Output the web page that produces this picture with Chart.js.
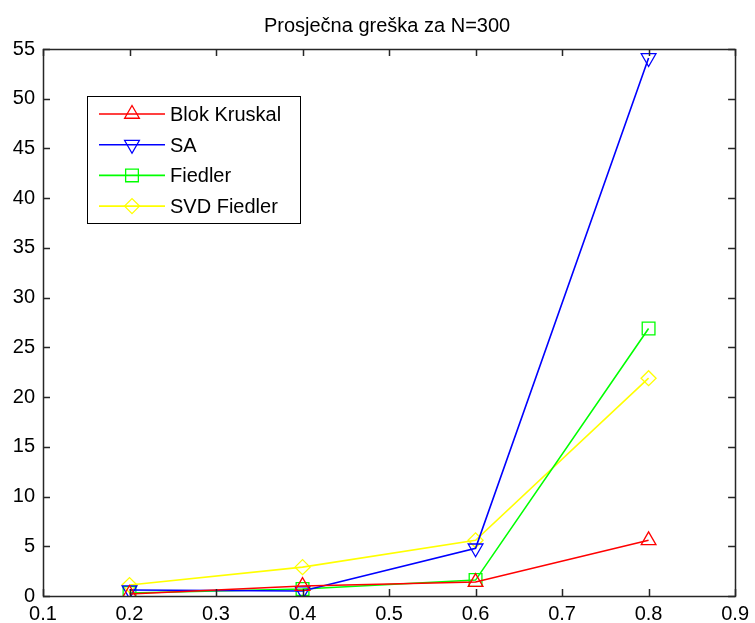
<!DOCTYPE html>
<html>
<head>
<meta charset="utf-8">
<script src="https://cdn.jsdelivr.net/npm/chart.js@4.4.1/dist/chart.umd.min.js"></script>
<style>
  html, body { margin: 0; padding: 0; background: #fff; }
  #wrap { width: 755px; height: 623px; }
</style>
</head>
<body>
<div id="wrap"><canvas id="myChart" width="755" height="623"></canvas></div>
<script>
let xValues = [0.2, 0.4, 0.6, 0.8];
let blokKruskal = [0.2, 1.0, 1.4, 5.6];
let sa = [0.6, 0.5, 4.8, 54.1];
let fiedler = [0.3, 0.7, 1.6, 26.9];
let svdFiedler = [1.1, 2.9, 5.6, 21.9];
let labels = ['Blok Kruskal', 'SA', 'Fiedler', 'SVD Fiedler'];
let colors = ['#ff0000', '#0000ff', '#00ff00', '#ffff00'];
let titleText = 'Prosječna greška za N=300';

let family = '"Liberation Sans", Arial, sans-serif';
let font = '20px ' + family;

function pts(ys) {
    return xValues.map((x, i) => ({ x: x, y: ys[i] }));
}

function ds(i, ys, style, rot, r) {
    return {
        label: labels[i],
        data: pts(ys),
        borderColor: colors[i],
        backgroundColor: 'rgba(0,0,0,0)',
        borderWidth: 1.6,
        pointStyle: style,
        rotation: rot,
        pointRadius: r,
        pointBorderWidth: 1.3,
        pointBorderColor: colors[i],
        pointBackgroundColor: 'rgba(0,0,0,0)'
    };
}

// matlab-ish frame, inward ticks, title and legend box
let matlabLook = {
    id: 'matlabLook',
    afterDraw(chart) {
        let ctx = chart.ctx;
        let a = chart.chartArea;
        let xs = chart.scales.x, ys = chart.scales.y;
        ctx.save();
        ctx.strokeStyle = '#262626';
        ctx.lineWidth = 1.5;
        ctx.strokeRect(Math.round(a.left) + 0.5, Math.round(a.top) + 0.5,
            Math.round(a.right - a.left), Math.round(a.bottom - a.top));
        let tl = 7;
        ctx.beginPath();
        xs.ticks.forEach(t => {
            let px = Math.round(xs.getPixelForValue(t.value)) + 0.5;
            ctx.moveTo(px, a.bottom); ctx.lineTo(px, a.bottom - tl);
            ctx.moveTo(px, a.top); ctx.lineTo(px, a.top + tl);
        });
        ys.ticks.forEach(t => {
            let py = Math.round(ys.getPixelForValue(t.value)) + 0.5;
            ctx.moveTo(a.left, py); ctx.lineTo(a.left + tl, py);
            ctx.moveTo(a.right, py); ctx.lineTo(a.right - tl, py);
        });
        ctx.stroke();

        // title
        ctx.fillStyle = '#000';
        ctx.font = font;
        ctx.textAlign = 'center';
        ctx.textBaseline = 'alphabetic';
        ctx.fillText(titleText, (a.left + a.right) / 2 - 2, 32);

        // legend
        let bx = 87, by = 96, bw = 213, bh = 127;
        ctx.fillStyle = '#fff';
        ctx.fillRect(bx, by, bw, bh);
        ctx.strokeStyle = '#000';
        ctx.lineWidth = 1;
        ctx.strokeRect(bx + 0.5, by + 0.5, bw, bh);
        chart.data.datasets.forEach((d, i) => {
            let y = 114 + i * 30.7;
            ctx.strokeStyle = d.borderColor;
            ctx.lineWidth = 1.6;
            ctx.beginPath();
            ctx.moveTo(99, y);
            ctx.lineTo(165, y);
            ctx.stroke();
            ctx.fillStyle = 'rgba(0,0,0,0)';
            ctx.lineWidth = 1.3;
            Chart.helpers.drawPoint(ctx, {
                pointStyle: d.pointStyle,
                rotation: d.rotation,
                radius: d.pointRadius,
                borderWidth: 1.3
            }, 132, y);
            ctx.fillStyle = '#000';
            ctx.textAlign = 'left';
            ctx.textBaseline = 'alphabetic';
            ctx.fillText(d.label, 170, y + 7);
        });
        ctx.restore();
    }
};

let myChart = document.getElementById('myChart').getContext('2d');

let chart = new Chart(myChart, {
    type: 'line',
    data: {
        datasets: [
            ds(0, blokKruskal, 'triangle', 0, 8.5),
            ds(1, sa, 'triangle', 180, 8.5),
            ds(2, fiedler, 'rect', 0, 9),
            ds(3, svdFiedler, 'rectRot', 0, 7.5)
        ]
    },
    options: {
        responsive: false,
        animation: false,
        layout: { padding: { top: 49, right: 16, left: 0, bottom: 0 } },
        plugins: {
            legend: { display: false },
            title: { display: false },
            tooltip: { enabled: false }
        },
        scales: {
            x: {
                type: 'linear',
                min: 0.1,
                max: 0.9,
                grid: { display: false, drawTicks: false },
                border: { display: false },
                afterFit: s => { s.height = 27; },
                ticks: {
                    stepSize: 0.1,
                    padding: 6,
                    color: '#000',
                    font: { family: family, size: 20 },
                    maxRotation: 0,
                    autoSkip: false,
                    callback: v => (Math.round(v * 10) / 10).toFixed(1)
                }
            },
            y: {
                min: 0,
                max: 55,
                grid: { display: false, drawTicks: false },
                border: { display: false },
                afterFit: s => { s.width = 43; },
                ticks: {
                    stepSize: 5,
                    padding: 8,
                    color: '#000',
                    autoSkip: false,
                    font: { family: family, size: 20 }
                }
            }
        }
    },
    plugins: [matlabLook]
});
</script>
</body>
</html>
